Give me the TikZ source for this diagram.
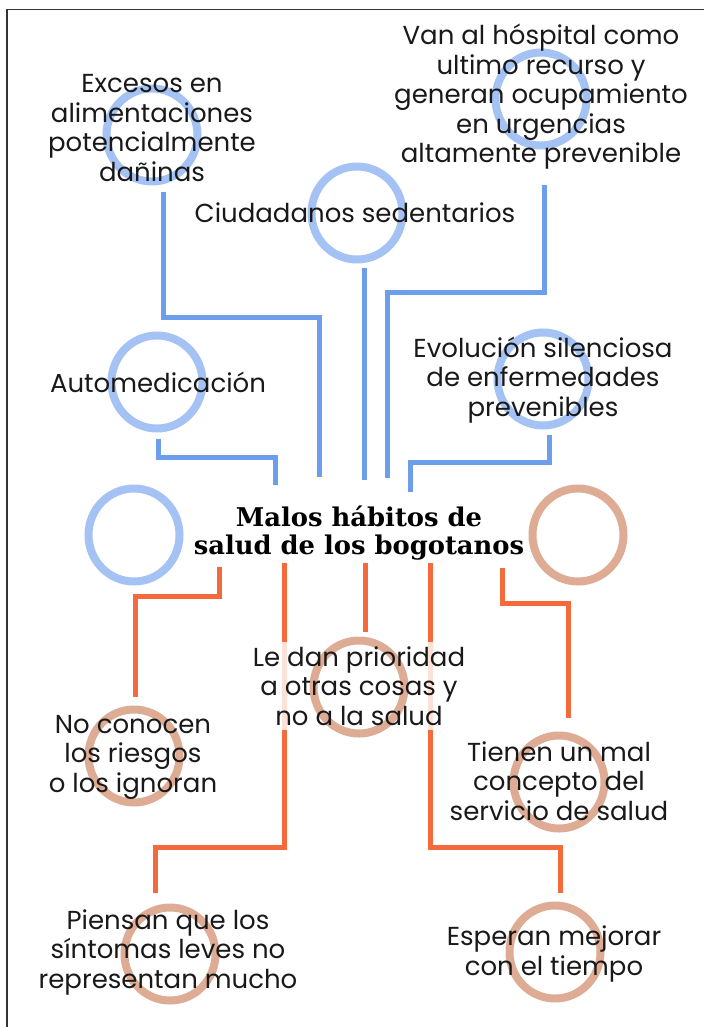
\documentclass[tikz,border=0pt]{standalone}
\usepackage{fontspec}
\newfontfamily\bodyfont{Poppins}
\newfontfamily\headfont{DejaVu Serif}
\usetikzlibrary{shapes.geometric}
\pgfdeclarelayer{wires}
\pgfdeclarelayer{veil}
\pgfsetlayers{wires,veil,main}
\definecolor{ringblue}{RGB}{164,194,244}
\definecolor{lineblue}{RGB}{109,158,235}
\definecolor{ringpeach}{RGB}{222,172,148}
\definecolor{lineorange}{RGB}{245,106,58}

\begin{document}
\begin{tikzpicture}[x=1pt,y=-1pt,line join=miter]
	\tikzstyle{ring}=[draw,ellipse,line width=8pt,minimum width=91pt,minimum height=93pt,inner sep=0pt,outer sep=0pt]
	\tikzstyle{cause}=[align=center,inner sep=0pt,text=black!90,font=\bodyfont\fontsize{26}{29.5}\selectfont]
	\tikzstyle{bwire}=[draw=lineblue,line width=5pt]
	\tikzstyle{owire}=[draw=lineorange,line width=5pt]
	\useasboundingbox (0,0) rectangle (704,1027);
	\draw[line width=1.6pt,black!80] (7,1027) -- (7,9.5) -- (704,9.5);
	% rings
	\node[ring,draw=ringblue] (r1) at (152,135) {};
	\node[ring,draw=ringblue] (r2) at (541,99) {};
	\node[ring,draw=ringblue] (r3) at (357,213) {};
	\node[ring,draw=ringblue] (r4) at (157,382) {};
	\node[ring,draw=ringblue] (r5) at (543,379) {};
	\node[ring,draw=ringblue] (r6) at (134,535) {};
	\node[ring,draw=ringpeach] (r7) at (578,535) {};
	\node[ring,draw=ringpeach] (r8) at (359,687) {};
	\node[ring,draw=ringpeach] (r9) at (134,756) {};
	\node[ring,draw=ringpeach] (r10) at (559,782) {};
	\node[ring,draw=ringpeach] (r11) at (170,954) {};
	\node[ring,draw=ringpeach] (r12) at (555,952) {};
	% causes and effects
	\node[cause] (exc) at (152,128) {Excesos en\\alimentaciones\\potencialmente\\dañinas};
	\node[cause] (van) at (541,97) {Van al hóspital como\\ultimo recurso y\\generan ocupamiento\\en urgencias\\altamente prevenible};
	\node[cause] (ciu) at (355,213) {Ciudadanos sedentarios};
	\node[cause] (aut) at (158,382) {Automedicación};
	\node[cause] (evo) at (543,380) {Evolución silenciosa\\de enfermedades\\prevenibles};
	\node[font=\headfont\bfseries\fontsize{25.8}{28}\selectfont,align=center,inner sep=0pt] (title) at (359,533) {Malos hábitos de\\salud de los bogotanos};
	\node[cause] (led) at (359,686) {Le dan prioridad\\a otras cosas y\\no a la salud};
	\node[cause] (noc) at (133,757) {No conocen\\los riesgos\\o los ignoran};
	\node[cause] (tie) at (559,781) {Tienen un mal\\concepto del\\servicio de salud};
	\node[cause] (pie) at (168,952) {Piensan que los\\síntomas leves no\\representan mucho};
	\node[cause] (esp) at (554,954) {Esperan mejorar\\con el tiempo};
	% wire ends by the title
	\coordinate (b1e) at (319,477);
	\coordinate (b2e) at (364,480);
	\coordinate (b3e) at (387,478);
	\coordinate (b4e) at (275,485);
	\coordinate (b5e) at (410,492);
	\coordinate (o1s) at (219,567);
	\coordinate (o2s) at (284,563);
	\coordinate (o3s) at (365,563);
	\coordinate (o4s) at (430,563);
	\coordinate (o5s) at (502,568);
	\begin{pgfonlayer}{veil}
		\fill[white,fill opacity=.8] ([shift={(-4,-4)}]led.north west) rectangle ([shift={(4,4)}]led.south east);
	\end{pgfonlayer}
	\begin{pgfonlayer}{wires}
		\draw[bwire] (r1.south) ++(11,10) -- ++(0,126) -| (b1e);
		\draw[bwire] (r3.south) ++(7,8.5) -- (b2e);
		\draw[bwire] (r2.south) ++(3,39.5) -- ++(0,107) -| (b3e);
		\draw[bwire] (r4.south) ++(1,10.5) -- ++(0,18) -| (b4e);
		\draw[bwire] (r5.south) ++(6,9.5) -- ++(0,27) -| (b5e);
		\draw[owire] (o1s) -- ++(0,29) -| ([xshift=1pt,yshift=12.5pt]r9.north);
		\draw[owire] (o2s) -- ++(0,284) -| ([xshift=-15pt,yshift=14.5pt]r11.north);
		\draw[owire] (o3s) -- ([xshift=6pt,yshift=8.5pt]r8.north);
		\draw[owire] (o4s) -- ++(0,284) -| ([xshift=5pt,yshift=12.5pt]r12.north);
		\draw[owire] (o5s) -- ++(0,35) -| ([xshift=9pt,yshift=17.5pt]r10.north);
	\end{pgfonlayer}
\end{tikzpicture}
\end{document}
